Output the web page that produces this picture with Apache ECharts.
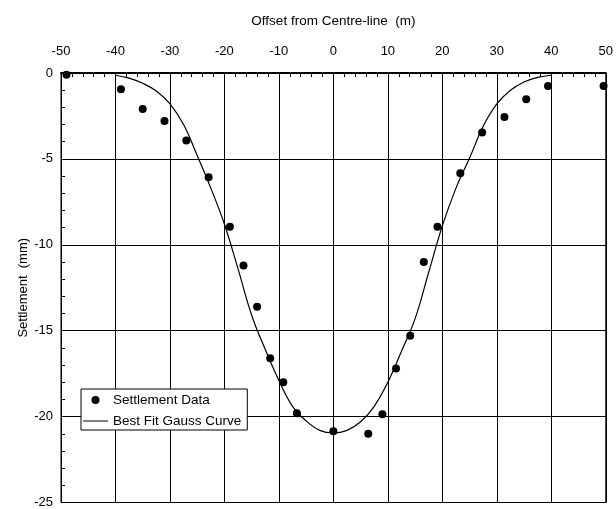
<!DOCTYPE html>
<html>
<head>
<meta charset="utf-8">
<script src="https://cdn.jsdelivr.net/npm/echarts@6/dist/echarts.min.js"></script>
<style>html,body{margin:0;padding:0;background:#fff}#c{width:616px;height:509px}</style>
</head>
<body>
<div id="c"></div>
<script>
var xTicks = [-50, -40, -30, -20, -10, 0, 10, 20, 30, 40, 50];
var yTicks = [-25, -20, -15, -10, -5, 0];
var pointX = [-49, -39, -35, -31, -27, -22.9, -19, -16.5, -14, -11.6, -9.2, -6.7, 0, 6.4, 9, 11.5, 14.1, 16.6, 19.1, 23.3, 27.3, 31.4, 35.4, 39.4, 49.6];
var pointY = [-0.1, -0.95, -2.09, -2.79, -3.93, -6.07, -8.95, -11.2, -13.6, -16.6, -18.0, -19.8, -20.85, -21.0, -19.86, -17.2, -15.3, -11.0, -8.95, -5.83, -3.47, -2.56, -1.53, -0.76, -0.76];
var curveX = [-40, -37.5, -35, -32.5, -30, -27.5, -25, -22.5, -20, -17.5, -15, -12.5, -10, -7.5, -5, -2.5, 0, 2.5, 5, 7.5, 10, 12.5, 15, 17.5, 20, 22.5, 25, 27.5, 30, 32.5, 35, 37.5, 40];
var curveY = [-0.13, -0.3, -0.6, -1.05, -1.8, -3.0, -4.8, -6.7, -8.8, -11.4, -14.1, -16.1, -17.9, -19.4, -20.25, -20.8, -20.95, -20.8, -20.3, -19.4, -18.0, -16.2, -14.3, -11.6, -8.9, -6.7, -4.95, -3.1, -1.8, -1.0, -0.52, -0.25, -0.13];
var seriesNames = ['Settlement Data', 'Best Fit Gauss Curve'];

var FONT = "'Liberation Sans', Arial, sans-serif";
var points = pointX.map(function (x, i) { return [x, pointY[i]]; });
var curve = curveX.map(function (x, i) { return [x, curveY[i]]; });

var chart = echarts.init(document.getElementById('c'), null, {renderer: 'canvas'});
chart.setOption({
  backgroundColor: '#fff',
  animation: false,
  textStyle: {fontFamily: FONT, color: '#000'},
  grid: {left: 61, right: 9, top: 73, bottom: 5, show: true, borderColor: '#000', borderWidth: 1, containLabel: false},
  legend: {
    orient: 'vertical',
    left: 81, top: 389,
    data: [
      {name: seriesNames[0], icon: 'circle'},
      {name: seriesNames[1], icon: 'path://M0,0L50,0L50,2L0,2Z'}
    ],
    backgroundColor: '#fff',
    borderColor: '#000', borderWidth: 1,
    padding: [3, 6, 1, 2],
    itemGap: 5,
    itemWidth: 25, itemHeight: 8,
    symbolKeepAspect: true,
    textStyle: {fontFamily: FONT, fontSize: 13.5, color: '#000', lineHeight: 16}
  },
  xAxis: {
    type: 'value', position: 'top',
    min: xTicks[0], max: xTicks[xTicks.length - 1], interval: 10,
    name: 'Offset from Centre-line  (m)', nameLocation: 'middle', nameGap: 45, nameMoveOverlap: false,
    nameTextStyle: {fontFamily: FONT, fontSize: 13.5, color: '#000'},
    axisLine: {show: true, onZero: false, lineStyle: {color: '#000', width: 2}},
    axisTick: {show: false, inside: true},
    minorTick: {show: true, splitNumber: 5, length: 4, lineStyle: {color: '#000', width: 1}},
    axisLabel: {fontFamily: FONT, fontSize: 13, color: '#000', margin: 15},
    splitLine: {show: true, lineStyle: {color: '#000', width: 1}}
  },
  yAxis: {
    type: 'value',
    min: yTicks[0], max: yTicks[yTicks.length - 1], interval: 5,
    name: 'Settlement  (mm)', nameLocation: 'middle', nameGap: 31, nameMoveOverlap: false,
    nameTextStyle: {fontFamily: FONT, fontSize: 13, color: '#000'},
    axisLine: {show: true, onZero: false, lineStyle: {color: '#000', width: 1}},
    axisTick: {show: false, inside: true},
    minorTick: {show: true, splitNumber: 5, length: 4, lineStyle: {color: '#000', width: 1}},
    axisLabel: {fontFamily: FONT, fontSize: 13, color: '#000', margin: 8},
    splitLine: {show: true, lineStyle: {color: '#000', width: 1}}
  },
  series: [
    {
      name: seriesNames[0], type: 'scatter', data: points,
      symbol: 'circle', symbolSize: 8,
      itemStyle: {color: '#000', opacity: 1}, z: 3
    },
    {
      name: seriesNames[1], type: 'line', data: curve,
      smooth: 0.4, symbol: 'none', showSymbol: false,
      lineStyle: {color: '#000', width: 1.2},
      itemStyle: {color: '#000'}, z: 2
    }
  ]
});
</script>
</body>
</html>
